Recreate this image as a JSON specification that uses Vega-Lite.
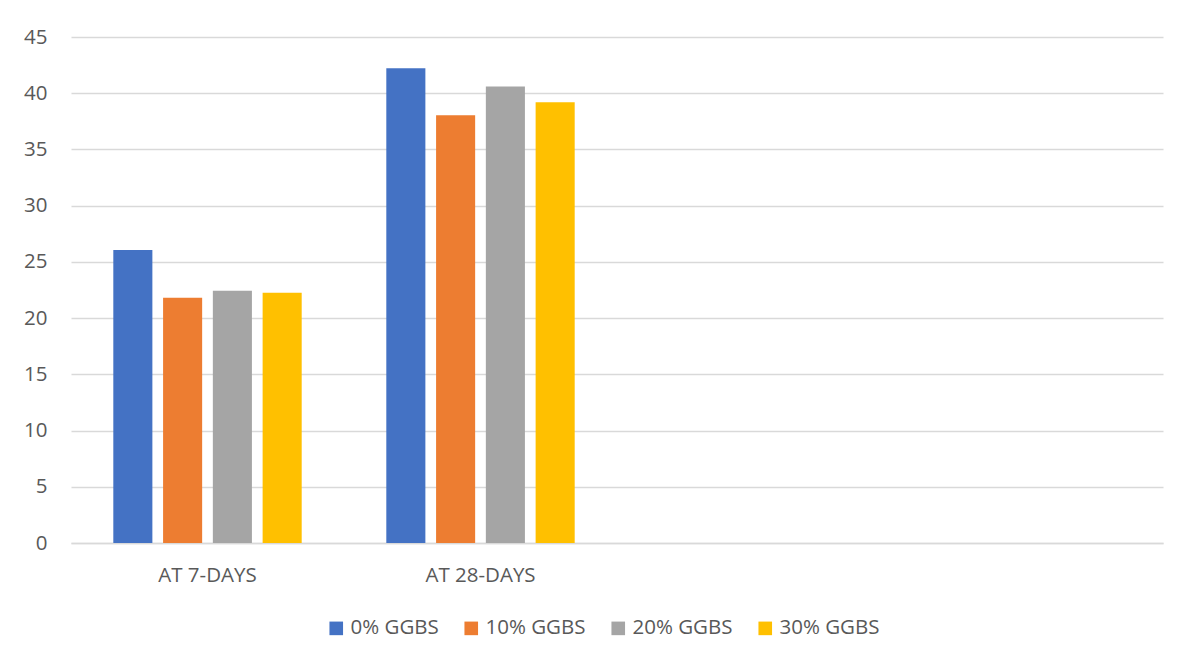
{
  "$schema": "https://vega.github.io/schema/vega-lite/v6.json",
  "width": 1092,
  "height": 506,
  "autosize": {"type": "none"},
  "padding": {"left": 71, "top": 37, "right": 26, "bottom": 119},
  "background": "#ffffff",
  "data": {
    "values": [
      {"age": "AT 7-DAYS", "mix": "0% GGBS", "strength": 26.06},
      {"age": "AT 7-DAYS", "mix": "10% GGBS", "strength": 21.82},
      {"age": "AT 7-DAYS", "mix": "20% GGBS", "strength": 22.44},
      {"age": "AT 7-DAYS", "mix": "30% GGBS", "strength": 22.26},
      {"age": "AT 28-DAYS", "mix": "0% GGBS", "strength": 42.22},
      {"age": "AT 28-DAYS", "mix": "10% GGBS", "strength": 38.04},
      {"age": "AT 28-DAYS", "mix": "20% GGBS", "strength": 40.59},
      {"age": "AT 28-DAYS", "mix": "30% GGBS", "strength": 39.2}
    ]
  },
  "mark": {"type": "bar"},
  "encoding": {
    "x": {
      "field": "age",
      "type": "nominal",
      "title": null,
      "sort": null,
      "scale": {"domain": ["AT 7-DAYS", "AT 28-DAYS", "c3", "c4"], "paddingInner": 0, "paddingOuter": 0},
      "axis": {
        "labelExpr": "datum.value == 'c3' || datum.value == 'c4' ? '' : datum.value",
        "labelAngle": 0,
        "ticks": false,
        "domainColor": "#d9d9d9",
        "domainWidth": 1.3,
        "labelFont": "Open Sans",
        "labelFontSize": 20.5,
        "labelColor": "#595959",
        "labelPadding": 22,
        "grid": false
      }
    },
    "xOffset": {
      "field": "mix",
      "type": "nominal",
      "sort": ["0% GGBS", "10% GGBS", "20% GGBS", "30% GGBS"],
      "scale": {"paddingInner": 0.215, "paddingOuter": 0.85}
    },
    "y": {
      "field": "strength",
      "type": "quantitative",
      "title": null,
      "scale": {"domain": [0, 45], "nice": false},
      "axis": {
        "values": [0, 5, 10, 15, 20, 25, 30, 35, 40, 45],
        "domain": false,
        "ticks": false,
        "gridColor": "#d9d9d9",
        "gridWidth": 1.3,
        "labelFont": "Open Sans",
        "labelFontSize": 20.5,
        "labelColor": "#595959",
        "labelPadding": 24
      }
    },
    "color": {
      "field": "mix",
      "type": "nominal",
      "sort": ["0% GGBS", "10% GGBS", "20% GGBS", "30% GGBS"],
      "scale": {
        "domain": ["0% GGBS", "10% GGBS", "20% GGBS", "30% GGBS"],
        "range": ["#4472C4", "#ED7D31", "#A5A5A5", "#FFC000"]
      },
      "legend": {
        "title": null,
        "orient": "none",
        "direction": "horizontal",
        "legendX": 255,
        "legendY": 581,
        "symbolType": "square",
        "symbolSize": 185,
        "symbolStrokeWidth": 0,
        "symbolOpacity": 1,
        "labelFont": "Open Sans",
        "labelFontSize": 20.5,
        "labelColor": "#595959",
        "labelOffset": 4,
        "columnPadding": 22
      }
    }
  },
  "config": {
    "view": {"stroke": null},
    "axis": {"gridOpacity": 1}
  }
}
